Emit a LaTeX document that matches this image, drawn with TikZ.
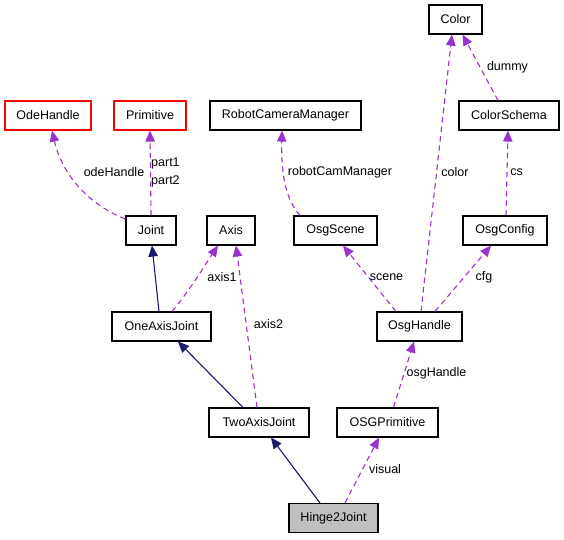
\documentclass[tikz,border=0pt]{standalone}
\usepackage{fontspec}
\setmainfont{Liberation Sans}
\usetikzlibrary{arrows.meta}
\definecolor{edgepurple}{HTML}{9A32CD}
\definecolor{edgenavy}{HTML}{191970}
\tikzset{
  cls/.style={draw=black, line width=1.1pt, inner sep=0pt, minimum height=29pt, font=\fontsize{12.5}{14}\selectfont},
  ext/.style={cls, draw=red},
  cur/.style={cls, fill=black!25},
  lbl/.style={inner sep=0pt, font=\fontsize{12.5}{14}\selectfont},
  uses/.style={draw=edgepurple, line width=1.1pt, dash pattern=on 5.5pt off 4pt, -{Triangle[length=11pt,width=9.5pt,fill=edgepurple]}},
  inh/.style={draw=edgenavy, line width=1.1pt, -{Triangle[length=11pt,width=9.5pt,fill=edgenavy]}},
}
\begin{document}
\begin{tikzpicture}[x=1pt,y=-1pt]
\useasboundingbox (0,0) rectangle (564,539);
% nodes
\node[cls, minimum width=53pt] (Color) at (455.5,19.5) {Color};
\node[ext, minimum width=86pt] (OdeHandle) at (48,115.5) {OdeHandle};
\node[ext, minimum width=72pt] (Primitive) at (150,115.5) {Primitive};
\node[cls, minimum width=151pt] (RCM) at (285.5,115.5) {RobotCameraManager};
\node[cls, minimum width=100pt] (ColorSchema) at (509,115.5) {ColorSchema};
\node[cls, minimum width=50pt] (Joint) at (151,230.5) {Joint};
\node[cls, minimum width=48pt] (Axis) at (231,230.5) {Axis};
\node[cls, minimum width=83pt] (OsgScene) at (335.5,230.5) {OsgScene};
\node[cls, minimum width=84pt] (OsgConfig) at (505,230.5) {OsgConfig};
\node[cls, minimum width=99pt] (OneAxisJoint) at (161.5,326.5) {OneAxisJoint};
\node[cls, minimum width=85pt] (OsgHandle) at (419.5,326.5) {OsgHandle};
\node[cls, minimum width=100pt] (TwoAxisJoint) at (259,422.5) {TwoAxisJoint};
\node[cls, minimum width=101pt] (OSGPrimitive) at (387.5,422.5) {OSGPrimitive};
\node[cur, minimum width=89pt] (Hinge2Joint) at (333.5,518) {Hinge2Joint};
% edges
\draw[uses] ([yshift=11.5pt]Joint.west) .. controls (92,206) and (63,178) .. ([xshift=4pt]OdeHandle.south);
\draw[uses] (Joint.north) -- ([xshift=0pt]Primitive.south);
\draw[uses] ([xshift=-35.5pt]OsgScene.north) .. controls (286,200) and (281,175) .. ([xshift=-3.5pt]RCM.south);
\draw[uses] ([xshift=1.5pt]OsgHandle.north) -- ([xshift=-3.5pt]Color.south);
\draw[uses] ([xshift=-11pt]ColorSchema.north) -- ([xshift=7pt]Color.south);
\draw[uses] ([xshift=1pt]OsgConfig.north) -- ([xshift=-1pt]ColorSchema.south);
\draw[uses] ([xshift=-23.5pt]OsgHandle.north) -- ([xshift=7.5pt]OsgScene.south);
\draw[uses] ([xshift=15.5pt]OsgHandle.north) -- ([xshift=-14pt]OsgConfig.south);
\draw[inh] ([xshift=-2.5pt]OneAxisJoint.north) -- ([xshift=1pt]Joint.south);
\draw[uses] ([xshift=10.5pt]OneAxisJoint.north) .. controls (190,290) and (205,265) .. ([xshift=-13pt]Axis.south);
\draw[uses] ([xshift=-2pt]TwoAxisJoint.north) -- ([xshift=5pt]Axis.south);
\draw[inh] ([xshift=-16pt]TwoAxisJoint.north) -- ([xshift=16.5pt]OneAxisJoint.south);
\draw[uses] ([xshift=6pt]OSGPrimitive.north) -- ([xshift=-5.5pt]OsgHandle.south);
\draw[inh] ([xshift=-13.5pt]Hinge2Joint.north) -- ([xshift=12pt]TwoAxisJoint.south);
\draw[uses] ([xshift=11.5pt]Hinge2Joint.north) -- ([xshift=-8.5pt]OSGPrimitive.south);
% labels
\node[lbl] (lOde) at (114,172) {odeHandle};
\node[lbl, anchor=west] (lPart1) at (151,163) {part1};
\node[lbl, anchor=west] (lPart2) at (151,181) {part2};
\node[lbl] (lRcm) at (340,172) {robotCamManager};
\node[lbl] (lColor) at (455,172) {color};
\node[lbl] (lDummy) at (507.5,67) {dummy};
\node[lbl] (lCs) at (516.5,172) {cs};
\node[lbl] (lAxis1) at (222,277) {axis1};
\node[lbl] (lScene) at (386.5,277) {scene};
\node[lbl] (lCfg) at (484,277) {cfg};
\node[lbl] (lAxis2) at (268.5,324) {axis2};
\node[lbl] (lOsgH) at (436.5,373) {osgHandle};
\node[lbl] (lVisual) at (385,469) {visual};
\end{tikzpicture}
\end{document}
